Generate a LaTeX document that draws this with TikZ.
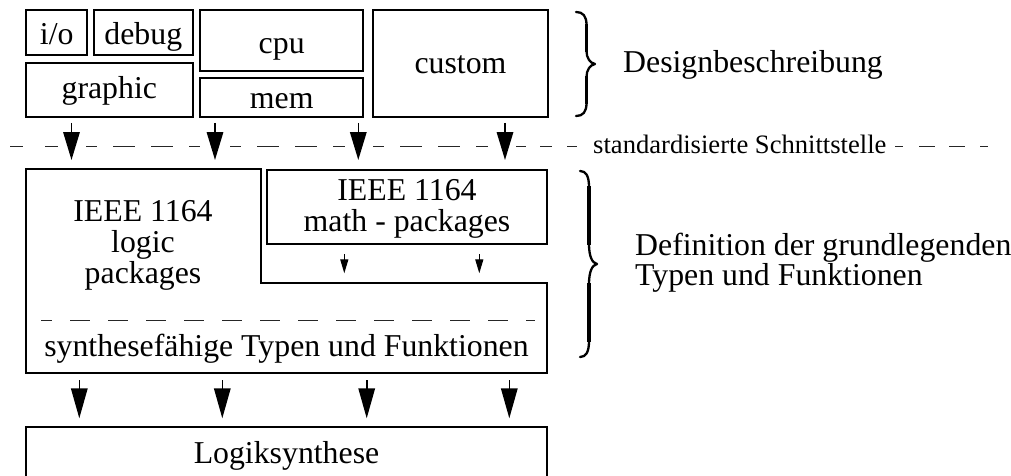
\documentclass[tikz,border=0pt]{standalone}
\usepackage{fontspec}
\setmainfont{Liberation Serif}
\usetikzlibrary{arrows.meta}

\tikzset{
  box/.style={draw=black, line width=1.7pt, anchor=north west, inner sep=0pt, outer sep=0pt},
  lbl/.style={anchor=base, inner sep=0pt, font=\fontsize{31.8}{31.8}\selectfont},
  side/.style={anchor=base west, inner sep=0pt, font=\fontsize{31.8}{31.8}\selectfont},
  note/.style={anchor=base west, inner sep=0pt, font=\fontsize{26.6}{26.6}\selectfont},
  bigarrow/.style={line width=1.6pt, -{Triangle[length=28pt,width=16.5pt]}},
  lowarrow/.style={line width=1.6pt, -{Triangle[length=30pt,width=16.5pt]}},
  thinarrow/.style={line width=1.3pt, -{Triangle[length=14pt,width=8pt]}},
  iface/.style={line width=1.4pt, draw=black!85},
  curly/.style={line width=2.3pt, line cap=round, line join=round},
  stem/.style={line width=3.2pt},
}

\begin{document}
\begin{tikzpicture}[x=1pt, y=-1pt]
\useasboundingbox (0,0) rectangle (1011,476);
\clip (0,0) rectangle (1011,476);

% --- design description blocks
\node[box, minimum width=61.3pt,  minimum height=45pt]   (io)      at (26,10) {};
\node[box, minimum width=98.7pt,  minimum height=45pt]   (debug)   at (94,10) {};
\node[box, minimum width=166.7pt, minimum height=53.4pt] (graphic) at (26,63.3) {};
\node[box, minimum width=163.3pt, minimum height=61pt]   (cpu)     at (200,10) {};
\node[box, minimum width=163.3pt, minimum height=38.4pt] (mem)     at (200,78.3) {};
\node[box, minimum width=174.4pt, minimum height=106.7pt] (custom) at (373.3,10) {};

\node[lbl] (iot)      at (56.7,45)   {i/o};
\node[lbl] (debugt)   at (143.3,45)  {debug};
\node[lbl] (graphict) at (109.3,98.3) {graphic};
\node[lbl] (cput)     at (281.7,53.3) {cpu};
\node[lbl] (memt)     at (281.7,108.3) {mem};
\node[lbl] (customt)  at (460.5,74)  {custom};

% closing brace beside the design blocks
\draw[curly] (576,12) .. controls (583,12) and (586.5,16) .. (586.5,25)
  -- (586.5,51) .. controls (586.5,58) and (590,63) .. (595,64)
  .. controls (590,65) and (586.5,70) .. (586.5,77)
  -- (586.5,103) .. controls (586.5,112) and (583,116) .. (576,116);
\draw[stem] (586.5,24) -- (586.5,52) (586.5,76) -- (586.5,104);
\node[side] (design) at (623,73) {Designbeschreibung};

% --- standardised interface
\draw[iface, dash pattern=on 12.5pt off 22.5pt] (10,146.7) -- (57.5,146.7);
\draw[iface, dash pattern=on 22pt off 16pt, dash phase=11pt] (86,146.7) -- (200,146.7);
\draw[iface, dash pattern=on 22pt off 16pt, dash phase=11pt] (230,146.7) -- (345,146.7);
\draw[iface, dash pattern=on 22pt off 16pt, dash phase=11pt] (373,146.7) -- (488,146.7);
\draw[iface, dash pattern=on 10pt off 14pt on 12pt off 15pt on 10pt off 100pt] (516,146.7) -- (577,146.7);
\draw[iface, dash pattern=on 8pt off 16pt on 16pt off 14pt on 16pt off 15pt on 8pt off 100pt] (895,146.7) -- (988,146.7);
\node[note] (schnitt) at (593,153) {standardisierte Schnittstelle};

\coordinate (u1) at (71.5,123);  \coordinate (v1) at (71.5,160);
\coordinate (u2) at (215,123);   \coordinate (v2) at (215,160);
\coordinate (u3) at (358.3,123); \coordinate (v3) at (358.3,160);
\coordinate (u4) at (505,123);   \coordinate (v4) at (505,160);
\foreach \i in {1,...,4} \draw[bigarrow] (u\i) -- (v\i);

% --- basic types and functions
\draw[line width=1.7pt] (26,169.3) -- (260.7,169.3) -- (260.7,282.7)
  -- (546.7,282.7) -- (546.7,372.7) -- (26,372.7) -- cycle;
\node[box, minimum width=279.4pt, minimum height=74pt] (math) at (267.3,170) {};

\node[lbl] (logic1) at (143,221.7) {IEEE 1164};
\node[lbl] (logic2) at (143,252.5) {logic};
\node[lbl] (logic3) at (143,283.5) {packages};
\node[lbl] (math1)  at (407,200)   {IEEE 1164};
\node[lbl] (math2)  at (407,231.7) {math - packages};

\coordinate (m1) at (344.3,254); \coordinate (n1) at (344.3,273.3);
\coordinate (m2) at (479.3,254); \coordinate (n2) at (479.3,273.3);
\draw[thinarrow] (m1) -- (n1);
\draw[thinarrow] (m2) -- (n2);

\draw[iface, dash pattern=on 20pt off 18pt, dash phase=9pt] (41,320.7) -- (535,320.7);
\node[lbl] (synth) at (286.5,356.7) {synthesefähige Typen und Funktionen};

% closing brace beside the type definitions
\draw[curly] (580,171) .. controls (586,171) and (589,176) .. (589,187)
  -- (589,244) .. controls (589,256) and (592,263) .. (597,264)
  .. controls (592,265) and (589,272) .. (589,284)
  -- (589,341) .. controls (589,352) and (586,357) .. (580,357);
\draw[stem] (589,186) -- (589,245) (589,283) -- (589,342);
\node[side] (def1) at (635,255) {Definition der grundlegenden};
\node[side] (def2) at (635,285) {Typen und Funktionen};

% --- logic synthesis
\node[box, minimum width=521.3pt, minimum height=70pt] (logsyn) at (26,426.7) {};
\node[lbl] (logsynt) at (286.5,463.3) {Logiksynthese};

\coordinate (p1) at (79.3,380);  \coordinate (q1) at (79.3,418.3);
\coordinate (p2) at (222.3,380); \coordinate (q2) at (222.3,418.3);
\coordinate (p3) at (366.7,380); \coordinate (q3) at (366.7,418.3);
\coordinate (p4) at (509.3,380); \coordinate (q4) at (509.3,418.3);
\foreach \i in {1,...,4} \draw[lowarrow] (p\i) -- (q\i);
\end{tikzpicture}
\end{document}
